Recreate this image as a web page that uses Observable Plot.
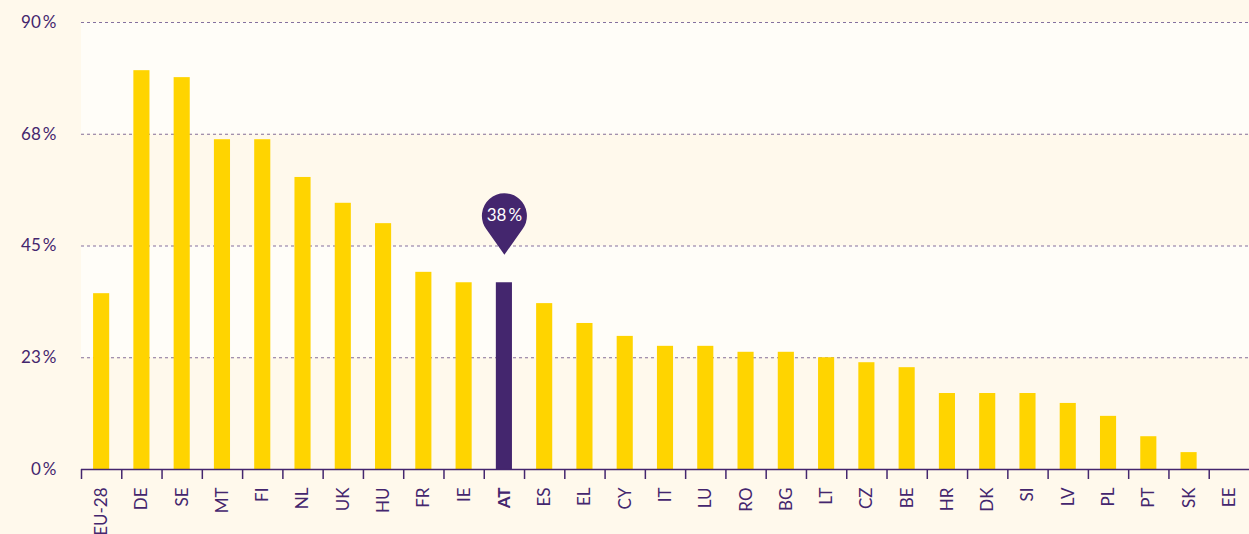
<!DOCTYPE html>
<html>
<head>
<meta charset="utf-8">
<script src="https://cdn.jsdelivr.net/npm/d3@7"></script>
<script src="https://cdn.jsdelivr.net/npm/@observablehq/plot@0.6"></script>
<style>
  html, body { margin: 0; padding: 0; background: #fff9ec; }
  #chart svg { display: block; }
</style>
</head>
<body>
<div id="chart"></div>
<script>
const countries = ["EU-28","DE","SE","MT","FI","NL","UK","HU","FR","IE","AT","ES","EL","CY","IT","LU","RO","BG","LT","CZ","BE","HR","DK","SI","LV","PL","PT","SK","EE"];
const values = [35.4,80.3,78.9,66.4,66.4,58.8,53.6,49.5,39.7,37.6,37.6,33.4,29.4,26.8,24.8,24.8,23.6,23.6,22.5,21.5,20.5,15.3,15.3,15.3,13.3,10.7,6.6,3.4,0];
const yTicks = [0, 22.5, 45, 67.5, 90];
const highlight = "AT";

const purple = "#44266e";
const yellow = "#ffd400";
const cream = "#fff9ec";
const light = "#fffdf8";

const data = countries.map((c, i) => ({country: c, value: values[i]}));
const bands = [
  {y1: 0, y2: 22.5, fill: cream},
  {y1: 22.5, y2: 45, fill: light},
  {y1: 45, y2: 67.5, fill: cream},
  {y1: 67.5, y2: 90, fill: light}
];
const W = 1249, H = 534, mL = 81, mR = 0;
const step = (W - mL - mR) / countries.length;
const hl = data.find(d => d.country === highlight);

const pin = {
  draw(ctx) {
    const r = 22.5, d = 39;
    const a = Math.acos(r / d);
    const s = Math.PI / 2 + a, e = Math.PI / 2 - a + 2 * Math.PI;
    ctx.moveTo(0, d);
    ctx.lineTo(r * Math.cos(s), r * Math.sin(s));
    ctx.arc(0, 0, r, s, e);
    ctx.closePath();
  }
};

const chart = Plot.plot({
  width: W, height: H,
  marginLeft: mL, marginRight: mR, marginTop: 22, marginBottom: 65,
  style: {background: cream, fontFamily: "Lato, sans-serif", color: purple},
  x: {type: "band", domain: countries, paddingInner: 0.6, paddingOuter: 0.3, round: false, axis: null},
  y: {domain: [0, 90], axis: null},
  color: {type: "identity"},
  marks: [
    Plot.rect(bands, {y1: "y1", y2: "y2", fill: "fill"}),
    Plot.ruleY(yTicks.filter(d => d > 0), {stroke: purple, strokeOpacity: 0.65, strokeDasharray: "3,3", strokeWidth: 1.2}),
    Plot.axisY(yTicks, {tickSize: 0, tickPadding: 25, fontSize: 17, fill: purple, tickFormat: d => Math.round(d) + "\u2009%"}),
    Plot.barY(data.filter(d => d.country !== highlight), {x: "country", y: "value", fill: yellow}),
    Plot.barY(data.filter(d => d.country === highlight), {x: "country", y: "value", fill: purple}),
    Plot.ruleY([0], {stroke: purple, strokeWidth: 1.5}),
    Plot.ruleX(countries, {x: d => d, y1: 0, y2: 0, insetBottom: -10, dx: -step / 2, stroke: purple, strokeWidth: 1.5}),
    Plot.text(countries.filter(d => d !== highlight), {x: d => d, y: 0, text: d => d, rotate: -90, textAnchor: "end", dy: 18, fontSize: 17, fill: purple}),
    Plot.text([highlight], {x: d => d, y: 0, text: d => d, rotate: -90, textAnchor: "end", dy: 18, fontSize: 17, fontWeight: "bold", fill: purple}),
    Plot.dot([hl], {x: "country", y: "value", dy: -67, symbol: pin, r: 10, fill: purple, stroke: "none"}),
    Plot.text([hl], {x: "country", y: "value", dy: -67, text: d => Math.round(d.value) + "\u2009%", fill: "white", fontSize: 17})
  ]
});
document.getElementById("chart").append(chart);
</script>
</body>
</html>
